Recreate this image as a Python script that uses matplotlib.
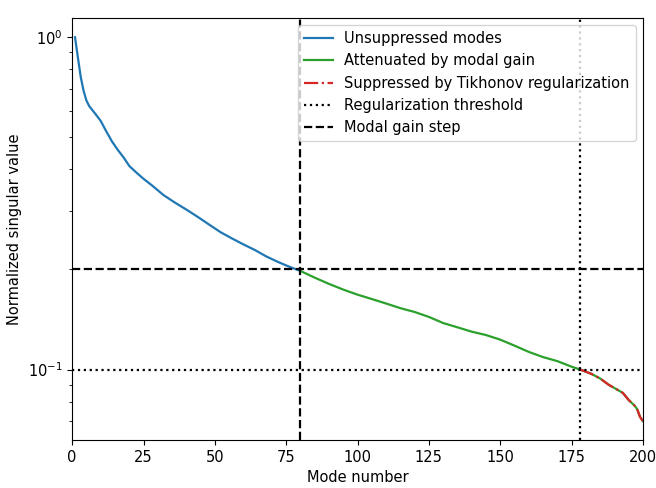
import numpy as np
import matplotlib.pyplot as plt

# Singular values (mode number, normalized value)
modes = [1, 2, 3, 4, 5, 6, 8, 10, 12, 14, 16, 18, 20, 22, 25, 28, 32, 36, 40,
         44, 48, 52, 56, 60, 64, 68, 72, 76, 80, 85, 90, 95, 100, 105, 110,
         115, 120, 125, 130, 135, 140, 145, 150, 155, 160, 165, 170, 175, 178,
         182, 185, 188, 191, 193, 195, 197, 198, 199, 200]
values = [1.00, 0.87, 0.76, 0.69, 0.645, 0.62, 0.59, 0.56, 0.52, 0.485, 0.458,
          0.435, 0.41, 0.395, 0.375, 0.358, 0.335, 0.318, 0.303, 0.288, 0.273,
          0.259, 0.248, 0.238, 0.229, 0.219, 0.211, 0.204, 0.198, 0.189, 0.181,
          0.174, 0.168, 0.163, 0.158, 0.153, 0.149, 0.144, 0.138, 0.134, 0.130,
          0.127, 0.123, 0.118, 0.113, 0.109, 0.106, 0.102, 0.100, 0.097, 0.094,
          0.090, 0.087, 0.085, 0.081, 0.078, 0.076, 0.072, 0.070]

gain_step_mode = 80
gain_step_value = 0.2
reg_mode = 178
reg_value = 0.1

modes = np.array(modes)
values = np.array(values)

plt.rcParams['font.size'] = 10.5
plt.rcParams['lines.linewidth'] = 1.6

fig = plt.figure(figsize=(6.56, 4.88), dpi=100)
ax = fig.add_axes([0.11, 0.098, 0.87, 0.865])

unsup = modes <= gain_step_mode
atten = modes >= gain_step_mode
supp = modes >= reg_mode

ax.semilogy(modes[unsup], values[unsup], color='tab:blue', label='Unsuppressed modes')
ax.semilogy(modes[atten], values[atten], color='tab:green', label='Attenuated by modal gain')
ax.semilogy(modes[supp], values[supp], color='tab:red', ls='-.', label='Suppressed by Tikhonov regularization')

ax.axhline(reg_value, color='k', ls=':', label='Regularization threshold')
ax.axvline(reg_mode, color='k', ls=':')
ax.axhline(gain_step_value, color='k', ls='--', label='Modal gain step')
ax.axvline(gain_step_mode, color='k', ls='--')

ax.set_xlim(0, 200)
ax.set_xlabel('Mode number')
ax.set_ylabel('Normalized singular value')
ax.legend(loc='upper right')

fig.savefig('out.png', dpi=100)
